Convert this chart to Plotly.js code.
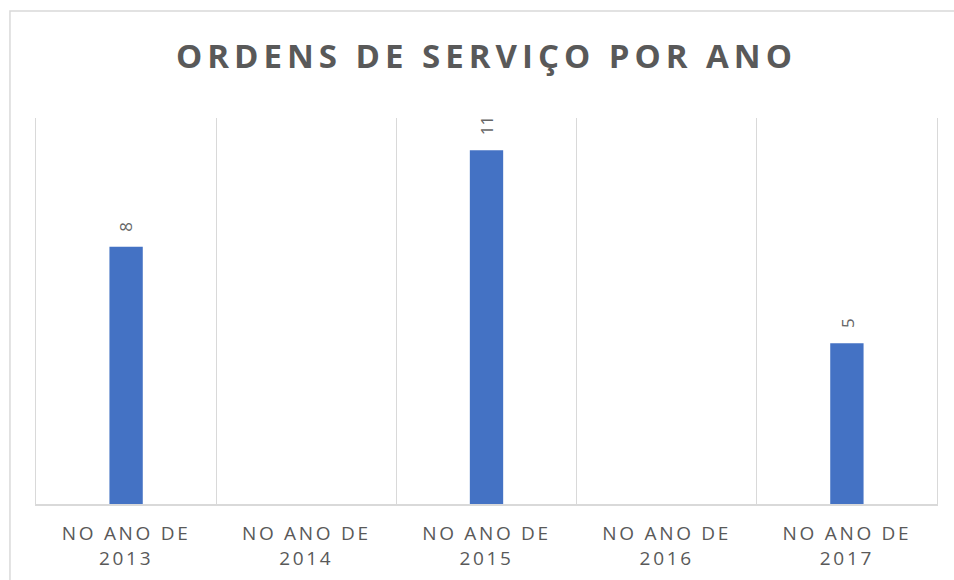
<!DOCTYPE html>
<html>
<head>
<meta charset="utf-8">
<script src="https://cdn.plot.ly/plotly-3.0.1.min.js"></script>
<style>
html,body{margin:0;padding:0;background:#fff;}
#chart{width:954px;height:580px;}
.xtick text{letter-spacing:2.7px;}
.gtitle{letter-spacing:5px;}
</style>
</head>
<body>
<div id="chart"></div>
<script>
var years = ["2013", "2014", "2015", "2016", "2017"];
var tickLabels = ["NO ANO DE<br>2013", "NO ANO DE<br>2014", "NO ANO DE<br>2015", "NO ANO DE<br>2016", "NO ANO DE<br>2017"];
var values = [8, null, 11, null, 5];

var annotations = [];
years.forEach(function (y, i) {
  if (values[i] !== null) {
    annotations.push({
      x: i, y: values[i], xref: 'x', yref: 'y',
      text: String(values[i]), showarrow: false,
      textangle: -90, yanchor: 'bottom', xanchor: 'center', yshift: 13,
      font: {family: 'Open Sans, sans-serif', size: 17, color: '#666666'}
    });
  }
});

var trace = {
  type: 'bar', x: years, y: values,
  width: 0.185,
  marker: {color: '#4472C4', line: {width: 0}},
  hoverinfo: 'none'
};

var layout = {
  width: 954, height: 580,
  margin: {l: 36, r: 17, t: 118, b: 76},
  paper_bgcolor: '#ffffff', plot_bgcolor: '#ffffff',
  title: {
    text: '<b>ORDENS DE SERVIÇO POR ANO</b>',
    font: {family: 'Open Sans, sans-serif', size: 33, color: '#595959'},
    x: 0.5, xref: 'paper', xanchor: 'center', y: 0.902, yanchor: 'middle', yref: 'container'
  },
  xaxis: {
    type: 'category', tickvals: years, ticktext: tickLabels,
    tickson: 'boundaries', ticklen: 0, ticklabelstandoff: 12,
    showgrid: true, gridcolor: '#d9d9d9', gridwidth: 1,
    showline: true, linecolor: '#d9d9d9', linewidth: 1.5,
    tickfont: {family: 'Open Sans, sans-serif', size: 19, color: '#595959'},
    range: [-0.5, 4.5], fixedrange: true
  },
  yaxis: {
    range: [0, 12], showgrid: false, zeroline: false, showticklabels: false,
    showline: true, mirror: true, linecolor: '#d9d9d9', linewidth: 1,
    ticks: '', fixedrange: true
  },
  shapes: [{
    type: 'rect', xref: 'paper', yref: 'paper',
    x0: -0.0289, x1: 1.2, y0: -0.4, y1: 1.277,
    line: {color: '#d9d9d9', width: 1.5}, fillcolor: 'rgba(0,0,0,0)', layer: 'below'
  }],
  annotations: annotations,
  showlegend: false
};

Plotly.newPlot('chart', [trace], layout, {displayModeBar: false, staticPlot: true});
</script>
</body>
</html>
